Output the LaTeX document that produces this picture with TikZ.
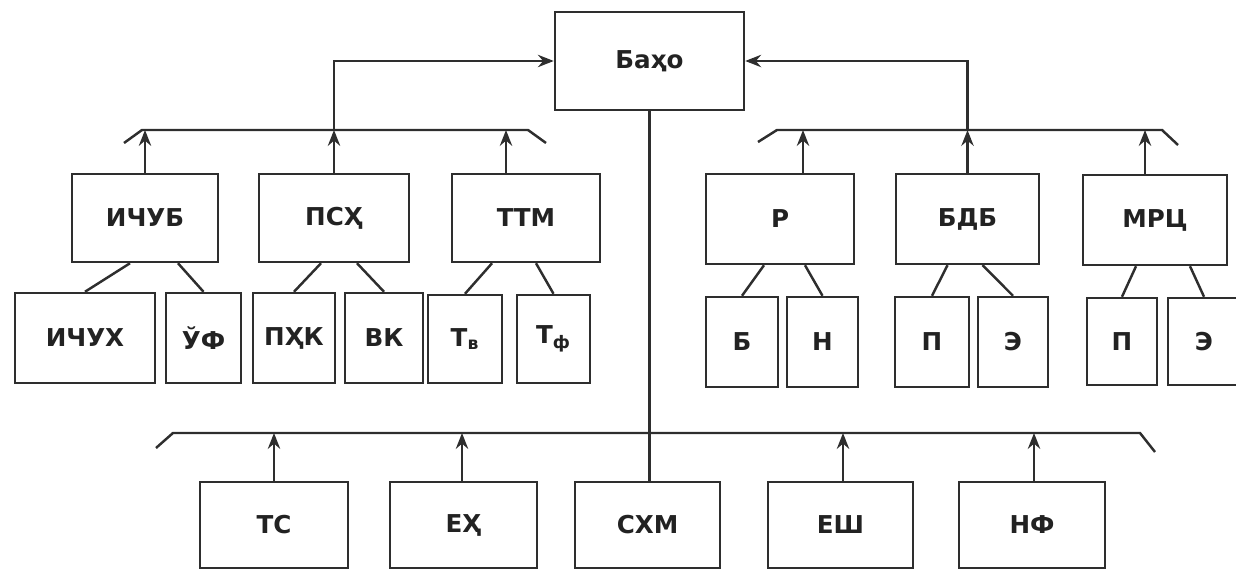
\documentclass[tikz,border=0pt]{standalone}
\usepackage{fontspec}
\setmainfont{DejaVu Sans}
\usetikzlibrary{arrows.meta,positioning,calc}
\definecolor{skInk}{HTML}{2E2E2E}
\definecolor{skText}{HTML}{222222}
\tikzset{
  bx/.style={draw=skInk, line width=1.4pt, inner sep=0pt, font=\fontsize{14}{16}\selectfont\bfseries, text=skText},
  sz/.style 2 args={minimum width=#1*0.02cm, minimum height=#2*0.02cm},
  arr/.style={-{Stealth[length=9pt,width=7pt]}, line width=1.4pt, draw=skInk},
  ln/.style={line width=1.4pt, draw=skInk},
}
\begin{document}
\begin{tikzpicture}[x=0.02cm, y=-0.02cm]
  \useasboundingbox (0,0) rectangle (1236,570);
  % top
  \node[bx, sz={189}{98}] (baho) at (649.5,61) {Баҳо};
  % second level
  \node[bx, sz={146}{88}] (ichub) at (145,218) {ИЧУБ};
  \node[bx, sz={150}{88}] (psh) at (334,218) {ПСҲ};
  \node[bx, sz={148}{88}] (ttm) at (526,218) {ТТМ};
  \node[bx, sz={148}{90}] (r) at (780,219) {Р};
  \node[bx, sz={143}{90}] (bdb) at (967.5,219) {БДБ};
  \node[bx, sz={144}{90}] (mrc) at (1155,220) {МРЦ};
  % third level
  \node[bx, sz={140}{90}] (ichux) at (85,338) {ИЧУХ};
  \node[bx, sz={75}{90}] (uf) at (203.5,338) {ЎФ};
  \node[bx, sz={82}{90}] (phk) at (294,338) {ПҲК};
  \node[bx, sz={78}{90}] (vk) at (384,338) {ВК};
  \node[bx, sz={74}{88}] (tv) at (465,339) {Т\textsubscript{в}};
  \node[bx, sz={73}{88}] (tf) at (553.5,339) {Т\textsubscript{ф}};
  \node[bx, sz={72}{90}] (b) at (742,342) {Б};
  \node[bx, sz={71}{90}] (n) at (822.5,342) {Н};
  \node[bx, sz={74}{90}] (p1) at (932,342) {П};
  \node[bx, sz={70}{90}] (e1) at (1013,342) {Э};
  \node[bx, sz={70}{87}] (p2) at (1122,341.5) {П};
  \node[bx, sz={72}{87}] (e2) at (1204,341.5) {Э};
  % bottom row
  \node[bx, sz={148}{86}] (ts) at (274,525) {ТС};
  \node[bx, sz={147}{86}] (eh) at (463.5,525) {ЕҲ};
  \node[bx, sz={145}{86}] (shm) at (647.5,525) {СХМ};
  \node[bx, sz={145}{86}] (esh) at (840.5,525) {ЕШ};
  \node[bx, sz={146}{86}] (nf) at (1032,525) {НФ};
  % buses
  \coordinate (lbL) at (142,130);
  \coordinate (lbR) at (528,130);
  \coordinate (rbL) at (777,130);
  \coordinate (rbR) at (1162,130);
  \coordinate (bbL) at (173,433);
  \coordinate (bbR) at (1140,433);
  \draw[ln] (124,143) -- (lbL) -- (lbR) -- (546,143);
  \draw[ln] (758,142) -- (rbL) -- (rbR) -- (1178,145);
  \draw[ln] (156,448) -- (bbL) -- (bbR) -- (1155,452);
  % into the buses
  \draw[arr] (ichub.north) -- (ichub.north |- lbL);
  \draw[arr] (psh.north) -- (psh.north |- lbL);
  \draw[arr] ([xshift=-0.4cm]ttm.north) -- ([xshift=-0.4cm]ttm.north |- lbL);
  \draw[arr] ([xshift=0.46cm]r.north) -- ([xshift=0.46cm]r.north |- rbL);
  \draw[arr] (bdb.north) -- (bdb.north |- rbL);
  \draw[arr] ([xshift=-0.2cm]mrc.north) -- ([xshift=-0.2cm]mrc.north |- rbL);
  \draw[arr] (ts.north) -- (ts.north |- bbL);
  \draw[arr] ([xshift=-0.03cm]eh.north) -- ([xshift=-0.03cm]eh.north |- bbL);
  \draw[arr] ([xshift=0.05cm]esh.north) -- ([xshift=0.05cm]esh.north |- bbL);
  \draw[arr] ([xshift=0.04cm]nf.north) -- ([xshift=0.04cm]nf.north |- bbL);
  % buses to the top
  \draw[arr] (psh.north |- lbL) |- (baho.west);
  \draw[arr] (bdb.north |- rbL) |- (baho.east);
  \draw[ln] (baho.south) -- (baho.south |- shm.north);
  % parents to parts
  \draw[ln] ([xshift=-0.3cm]ichub.south) -- (ichux.north);
  \draw[ln] ([xshift=0.66cm]ichub.south) -- (uf.north);
  \draw[ln] ([xshift=-0.26cm]psh.south) -- (phk.north);
  \draw[ln] ([xshift=0.46cm]psh.south) -- (vk.north);
  \draw[ln] ([xshift=-0.68cm]ttm.south) -- (tv.north);
  \draw[ln] ([xshift=0.2cm]ttm.south) -- (tf.north);
  \draw[ln] ([xshift=-0.32cm]r.south) -- (b.north);
  \draw[ln] ([xshift=0.5cm]r.south) -- (n.north);
  \draw[ln] ([xshift=-0.4cm]bdb.south) -- (p1.north);
  \draw[ln] ([xshift=0.3cm]bdb.south) -- (e1.north);
  \draw[ln] ([xshift=-0.38cm]mrc.south) -- (p2.north);
  \draw[ln] ([xshift=0.7cm]mrc.south) -- (e2.north);
\end{tikzpicture}
\end{document}
